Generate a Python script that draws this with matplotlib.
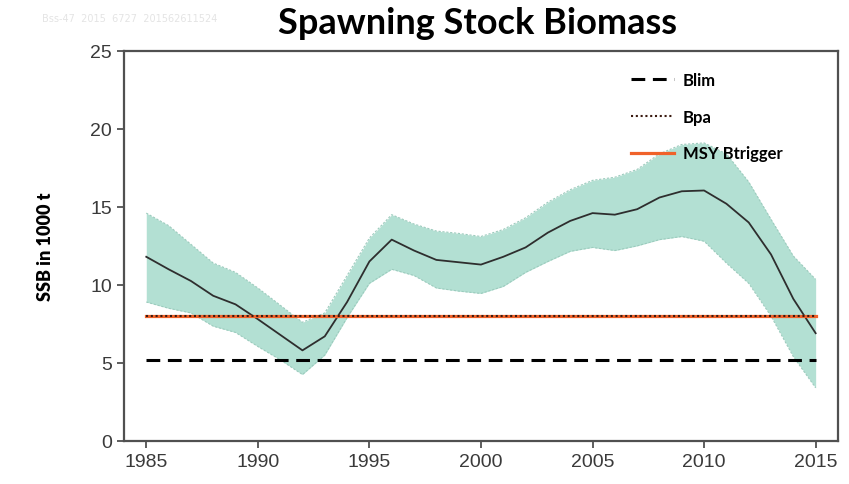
import matplotlib
matplotlib.use("Agg")
import matplotlib.pyplot as plt

years = list(range(1985, 2016))
ssb = [11.8, 11.0, 10.25, 9.3, 8.75, 7.8, 6.8, 5.8, 6.7, 8.9, 11.5, 12.9,
       12.2, 11.6, 11.45, 11.3, 11.8, 12.4, 13.35, 14.1, 14.6, 14.5, 14.85,
       15.6, 16.0, 16.05, 15.2, 14.0, 11.95, 9.1, 6.9]
ssb_high = [14.6, 13.8, 12.6, 11.4, 10.8, 9.8, 8.7, 7.6, 8.2, 10.6, 13.0, 14.5,
            13.9, 13.45, 13.3, 13.1, 13.55, 14.3, 15.3, 16.1, 16.7, 16.9, 17.4,
            18.4, 19.0, 19.1, 18.4, 16.6, 14.2, 11.85, 10.35]
ssb_low = [8.9, 8.5, 8.2, 7.35, 6.95, 6.05, 5.2, 4.25, 5.5, 7.9, 10.1, 11.0,
           10.6, 9.8, 9.6, 9.45, 9.9, 10.8, 11.5, 12.15, 12.4, 12.2, 12.5,
           12.9, 13.1, 12.8, 11.4, 10.1, 8.0, 5.4, 3.4]
blim = 5.2
bpa = 8.0
msy_btrigger = 8.0

fig = plt.figure(figsize=(8.49, 4.85), dpi=100)
ax = fig.add_axes([0.146, 0.089, 0.841, 0.804])

ax.fill_between(years, ssb_low, ssb_high, color="#b3e0d3", lw=0)
ax.plot(years, ssb_high, color="#9ccbbd", lw=0.8, ls=(0, (2, 1.5)))
ax.plot(years, ssb_low, color="#9ccbbd", lw=0.8, ls=(0, (2, 1.5)))
ax.plot(years, ssb, color="#2e2e2e", lw=1.3)

x0, x1 = years[0], years[-1]
ax.plot([x0, x1], [blim, blim], color="black", lw=2.2, ls=(0, (4.5, 2.5)), label="Blim")
ax.plot([x0, x1], [msy_btrigger, msy_btrigger], color="#f0622a", lw=2.3, label="MSY Btrigger", zorder=3)
ax.plot([x0, x1], [bpa, bpa], color="#3a1a10", lw=1.5, ls=(0, (1, 1.3)), label="Bpa", zorder=4)

ax.set_xlim(1984, 2016)
ax.set_ylim(0, 25)
ax.set_xticks(range(1985, 2016, 5))
ax.set_yticks(range(0, 26, 5))
for s in ax.spines.values():
    s.set_color("#505050")
    s.set_linewidth(1.6)
ax.tick_params(direction="out", length=5, width=1.3, color="#505050",
               labelsize=14, labelcolor="#3a3a3a")
for lab in ax.get_xticklabels() + ax.get_yticklabels():
    lab.set_family("Liberation Sans")

ax.set_ylabel("SSB in 1000 t", fontsize=13, fontweight="heavy", family="Lato", labelpad=26)
fig.text(0.563, 0.952, "Spawning Stock Biomass", ha="center", va="center",
         fontsize=26, fontweight="bold", family="Lato")
fig.text(0.05, 0.955, "Bss-47  2015  6727  201562611524", fontsize=7, color="#e4e4e4")

h, l = ax.get_legend_handles_labels()
order = [0, 2, 1]
ax.legend([h[i] for i in order], [l[i] for i in order], loc="upper right",
          bbox_to_anchor=(0.943, 0.985), frameon=False, handlelength=2.6,
          labelspacing=1.25, handletextpad=0.5,
          prop={"family": "Lato", "weight": "bold", "size": 12})

fig.savefig("out.png", dpi=100)
